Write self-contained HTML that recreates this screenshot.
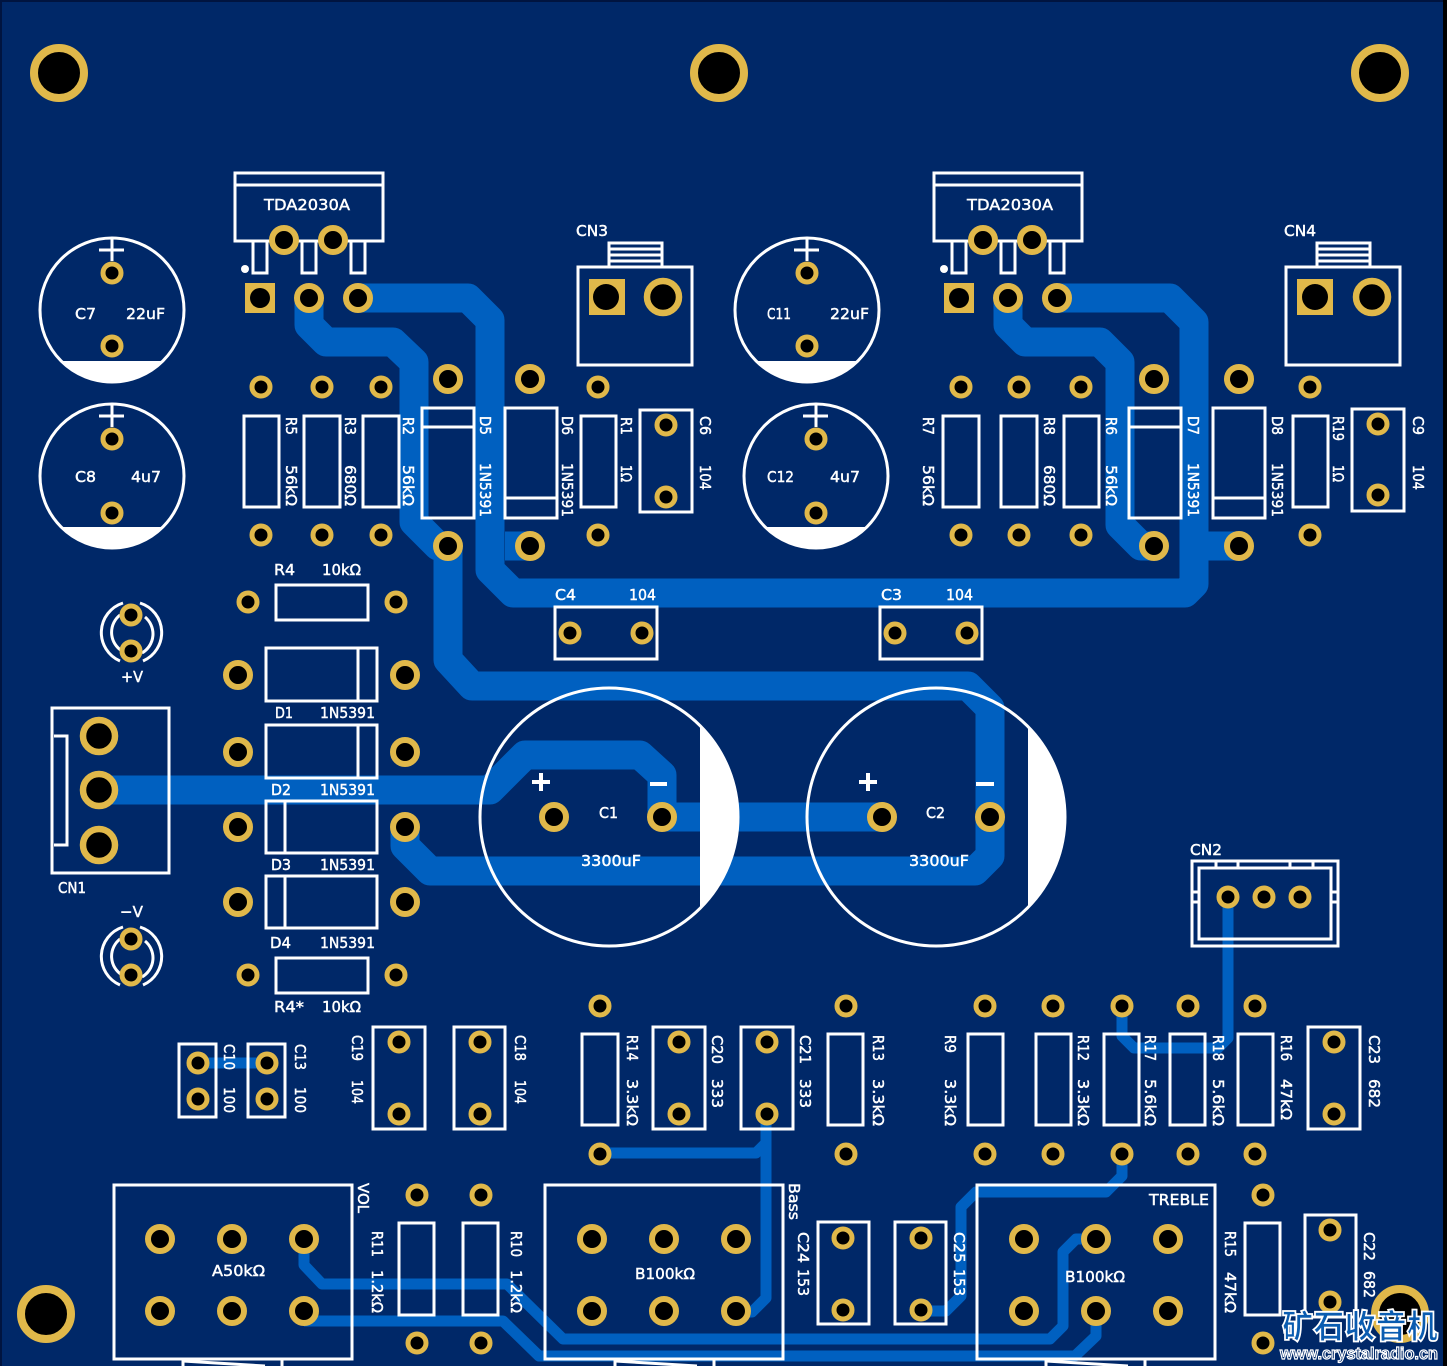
<!DOCTYPE html>
<html><head><meta charset="utf-8"><style>
html,body{margin:0;padding:0;background:#002868}
svg{display:block}
.si{fill:none;stroke:#fff;stroke-width:3;stroke-linejoin:miter}
.tr{fill:none;stroke:#0060c0;stroke-linejoin:round}
text{font-family:"DejaVu Sans","Liberation Sans",sans-serif;font-size:15.5px;fill:#fff;stroke:#fff;stroke-width:.45}
</style></head><body>
<svg xmlns="http://www.w3.org/2000/svg" width="1447" height="1366" viewBox="0 0 1447 1366">
<defs>
<circle id="s" r="9" fill="#000" stroke="#e0b84a" stroke-width="5"/>
<circle id="m" r="12" fill="#000" stroke="#e0b84a" stroke-width="6"/>
<circle id="b" r="16" fill="#000" stroke="#e0b84a" stroke-width="6.5"/>
<circle id="h" r="25" fill="#000" stroke="#e0b84a" stroke-width="8"/>
</defs>
<rect width="1447" height="1366" fill="#002868"/>
<rect width="2" height="1366" fill="#001440"/><rect width="1447" height="2" fill="#001440"/><rect x="1443" width="4" height="1366" fill="#000"/>

<!-- thick traces -->
<g class="tr" stroke-width="29">
<path d="M358 298H468L490 320V570L513 593H1185L1194 584V322L1170 298H1057"/>
<path d="M530 546H505M1239 546H1194"/>
<path d="M309 298V325L326 342H393L414 362V522L438 546H448V660L472 686H968L990 708V856L975 871H430L405 846V827"/>
<path d="M1008 298V325L1025 342H1100L1120 362V525L1141 546H1154"/>
<path d="M99 790H490L525 755H640L662 775V817H882"/>
</g>
<!-- thin traces -->
<g class="tr" stroke-width="11">
<path d="M1228 897V1038L1218 1048H1134L1122 1036V1005"/>
<path d="M1122 1153V1176L1106 1192H976L961 1207V1296L946 1311H921"/>
<path d="M600 1153H756L766 1143M766 1113V1298L752 1312H736"/>
<path d="M304 1239V1265L322 1284H507L563 1339H1050L1063 1326V1252L1076 1239H1096"/>
<path d="M304 1321H503L539 1356H1075L1096 1336V1312"/>
<path d="M198 1063H267"/>
</g>

<!-- silk -->
<g class="si">
<rect x="235" y="173" width="148" height="68"/><path d="M235 185H383"/>
<rect x="253" y="241" width="14" height="32"/><rect x="302" y="241" width="14" height="32"/><rect x="351" y="241" width="14" height="32"/>
<rect x="934" y="173" width="148" height="68"/><path d="M934 185H1082"/>
<rect x="952" y="241" width="14" height="32"/><rect x="1001" y="241" width="14" height="32"/><rect x="1050" y="241" width="14" height="32"/>
<circle cx="112" cy="310" r="72"/><circle cx="112" cy="476" r="72"/><circle cx="807" cy="310" r="72"/><circle cx="816" cy="476" r="72"/>
<circle cx="609" cy="817" r="129"/><circle cx="936" cy="817" r="129"/>
<path d="M99 250H124M112 238V261M99 416H124M112 404V427M794 250H819M807 238V261M803 416H828M816 404V427"/>
<rect x="578" y="267" width="114" height="98"/><rect x="609" y="243" width="53" height="24"/><path d="M609 249H662M609 255H662M609 261H662"/>
<rect x="1286" y="267" width="114" height="98"/><rect x="1317" y="243" width="53" height="24"/><path d="M1317 249H1370M1317 255H1370M1317 261H1370"/>
<!-- top row -->
<rect x="244" y="416" width="35" height="91"/><rect x="304" y="416" width="36" height="91"/><rect x="363" y="416" width="36" height="91"/>
<rect x="422" y="408" width="52" height="110"/><path d="M422 427H474"/>
<rect x="505" y="408" width="52" height="110"/><path d="M505 498H557"/>
<rect x="581" y="416" width="35" height="91"/><rect x="640" y="410" width="52" height="102"/>
<rect x="943" y="416" width="36" height="91"/><rect x="1001" y="416" width="36" height="91"/><rect x="1064" y="416" width="35" height="91"/>
<rect x="1129" y="408" width="52" height="110"/><path d="M1129 427H1181"/>
<rect x="1213" y="408" width="52" height="110"/><path d="M1213 498H1265"/>
<rect x="1293" y="416" width="35" height="91"/><rect x="1352" y="409" width="52" height="102"/>
<!-- left mid -->
<rect x="276" y="585" width="92" height="35"/><rect x="276" y="958" width="92" height="35"/>
<rect x="266" y="648" width="111" height="53"/><path d="M358 648V701"/>
<rect x="266" y="725" width="111" height="53"/><path d="M358 725V778"/>
<rect x="266" y="801" width="111" height="52"/><path d="M285 801V853"/>
<rect x="266" y="876" width="111" height="52"/><path d="M285 876V928"/>
<rect x="52" y="708" width="117" height="165"/><path d="M54 736H67V845H54"/>
<path d="M123 603A31 31 0 0 0 120 661M120 615A22 22 0 0 0 122 651M140 603A31 31 0 0 1 143 661M145 617A22 22 0 0 1 142 653"/>
<path d="M123 927A31 31 0 0 0 120 985M120 939A22 22 0 0 0 122 975M140 927A31 31 0 0 1 143 985M145 941A22 22 0 0 1 142 977"/>
<rect x="555" y="607" width="102" height="52"/><rect x="880" y="607" width="102" height="52"/>
<rect x="1192" y="861" width="146" height="85"/><rect x="1199" y="868" width="132" height="71"/>
<path d="M1216 861V868M1238 861V868M1290 861V868M1313 861V868M1192 892H1199M1192 902H1199M1331 892H1338M1331 902H1338"/>
<!-- lower row -->
<rect x="179" y="1044" width="37" height="73"/><rect x="248" y="1044" width="37" height="73"/>
<rect x="373" y="1027" width="52" height="102"/><rect x="454" y="1027" width="51" height="102"/>
<rect x="582" y="1034" width="36" height="91"/><rect x="653" y="1027" width="52" height="102"/><rect x="741" y="1027" width="52" height="102"/><rect x="828" y="1034" width="35" height="91"/>
<rect x="968" y="1034" width="35" height="91"/><rect x="1036" y="1034" width="35" height="91"/><rect x="1104" y="1034" width="35" height="91"/><rect x="1170" y="1034" width="35" height="91"/><rect x="1238" y="1034" width="35" height="91"/><rect x="1308" y="1027" width="52" height="102"/>
<!-- pots -->
<rect x="114" y="1185" width="238" height="174"/><path d="M183 1360V1366M282 1360V1366M183 1361L265 1366"/>
<rect x="545" y="1185" width="238" height="174"/><path d="M615 1360V1366M714 1360V1366M615 1361L697 1366"/>
<rect x="977" y="1185" width="238" height="174"/><path d="M1046 1360V1366M1145 1360V1366M1046 1361L1128 1366"/>
<rect x="399" y="1223" width="35" height="92"/><rect x="463" y="1223" width="35" height="92"/>
<rect x="818" y="1222" width="51" height="102"/><rect x="895" y="1222" width="51" height="102"/>
<rect x="1245" y="1223" width="35" height="92"/><rect x="1305" y="1215" width="51" height="102"/>
</g>
<circle cx="245" cy="269" r="4" fill="#fff"/><circle cx="944" cy="269" r="4" fill="#fff"/>
<!-- white segments -->
<g fill="#fff">
<path d="M61 361H163A72 72 0 0 1 61 361Z"/><path d="M61 527H163A72 72 0 0 1 61 527Z"/>
<path d="M756 361H858A72 72 0 0 1 756 361Z"/><path d="M765 527H867A72 72 0 0 1 765 527Z"/>
<path d="M700 725.6A129 129 0 0 1 700 908.4Z"/><path d="M1028 726.6A129 129 0 0 1 1028 907.4Z"/>
<rect x="532" y="780" width="18" height="4"/><rect x="539" y="773" width="4" height="18"/><rect x="650" y="782" width="17" height="4"/>
<rect x="859" y="780" width="18" height="4"/><rect x="866" y="773" width="4" height="18"/><rect x="976" y="782" width="18" height="4"/>
</g>

<!-- square pads -->
<g fill="#e0b84a">
<rect x="245" y="283" width="30" height="30"/><rect x="944" y="283" width="30" height="30"/>
<rect x="589" y="279" width="36" height="36"/><rect x="1297" y="279" width="36" height="36"/>
</g>
<g fill="#000"><circle cx="260" cy="298" r="10"/><circle cx="959" cy="298" r="10"/><circle cx="606" cy="297" r="13"/><circle cx="1315" cy="297" r="13"/></g>

<!-- mounting -->
<use href="#h" x="59" y="73"/><use href="#h" x="719" y="73"/><use href="#h" x="1380" y="73"/><use href="#h" x="46" y="1314"/><use href="#h" x="1400" y="1314"/>
<!-- medium -->
<use href="#m" x="284" y="240"/><use href="#m" x="333" y="240"/><use href="#m" x="309" y="298"/><use href="#m" x="358" y="298"/>
<use href="#m" x="983" y="240"/><use href="#m" x="1032" y="240"/><use href="#m" x="1008" y="298"/><use href="#m" x="1057" y="298"/>
<use href="#m" x="448" y="379"/><use href="#m" x="448" y="546"/><use href="#m" x="530" y="379"/><use href="#m" x="530" y="546"/>
<use href="#m" x="1154" y="379"/><use href="#m" x="1154" y="546"/><use href="#m" x="1239" y="379"/><use href="#m" x="1239" y="546"/>
<use href="#m" x="238" y="675"/><use href="#m" x="405" y="675"/><use href="#m" x="238" y="752"/><use href="#m" x="405" y="752"/><use href="#m" x="238" y="827"/><use href="#m" x="405" y="827"/><use href="#m" x="238" y="902"/><use href="#m" x="405" y="902"/>
<use href="#m" x="554" y="817"/><use href="#m" x="662" y="817"/><use href="#m" x="882" y="817"/><use href="#m" x="990" y="817"/>
<use href="#m" x="160" y="1239"/><use href="#m" x="232" y="1239"/><use href="#m" x="304" y="1239"/><use href="#m" x="160" y="1311"/><use href="#m" x="232" y="1311"/><use href="#m" x="304" y="1311"/>
<use href="#m" x="592" y="1239"/><use href="#m" x="664" y="1239"/><use href="#m" x="736" y="1239"/><use href="#m" x="592" y="1311"/><use href="#m" x="664" y="1311"/><use href="#m" x="736" y="1311"/>
<use href="#m" x="1024" y="1239"/><use href="#m" x="1096" y="1239"/><use href="#m" x="1168" y="1239"/><use href="#m" x="1024" y="1311"/><use href="#m" x="1096" y="1311"/><use href="#m" x="1168" y="1311"/>
<!-- big -->
<use href="#b" x="663" y="297"/><use href="#b" x="1372" y="297"/><use href="#b" x="99" y="736"/><use href="#b" x="99" y="790"/><use href="#b" x="99" y="845"/>
<!-- small -->
<use href="#s" x="112" y="273"/><use href="#s" x="112" y="346"/><use href="#s" x="112" y="439"/><use href="#s" x="112" y="513"/>
<use href="#s" x="807" y="273"/><use href="#s" x="807" y="346"/><use href="#s" x="816" y="439"/><use href="#s" x="816" y="513"/>
<use href="#s" x="261" y="387"/><use href="#s" x="322" y="387"/><use href="#s" x="381" y="387"/><use href="#s" x="598" y="387"/>
<use href="#s" x="261" y="535"/><use href="#s" x="322" y="535"/><use href="#s" x="381" y="535"/><use href="#s" x="598" y="535"/>
<use href="#s" x="666" y="425"/><use href="#s" x="666" y="497"/>
<use href="#s" x="961" y="387"/><use href="#s" x="1019" y="387"/><use href="#s" x="1081" y="387"/><use href="#s" x="1310" y="387"/>
<use href="#s" x="961" y="535"/><use href="#s" x="1019" y="535"/><use href="#s" x="1081" y="535"/><use href="#s" x="1310" y="535"/>
<use href="#s" x="1378" y="424"/><use href="#s" x="1378" y="495"/>
<use href="#s" x="248" y="602"/><use href="#s" x="396" y="602"/><use href="#s" x="248" y="975"/><use href="#s" x="396" y="975"/>
<use href="#s" x="131" y="615"/><use href="#s" x="131" y="651"/><use href="#s" x="131" y="939"/><use href="#s" x="131" y="975"/>
<use href="#s" x="570" y="633"/><use href="#s" x="642" y="633"/><use href="#s" x="895" y="633"/><use href="#s" x="967" y="633"/>
<use href="#s" x="1228" y="897"/><use href="#s" x="1264" y="897"/><use href="#s" x="1300" y="897"/>
<use href="#s" x="198" y="1063"/><use href="#s" x="198" y="1099"/><use href="#s" x="267" y="1063"/><use href="#s" x="267" y="1099"/>
<use href="#s" x="399" y="1042"/><use href="#s" x="399" y="1114"/><use href="#s" x="480" y="1042"/><use href="#s" x="480" y="1114"/>
<use href="#s" x="600" y="1006"/><use href="#s" x="600" y="1154"/><use href="#s" x="679" y="1042"/><use href="#s" x="679" y="1114"/><use href="#s" x="767" y="1042"/><use href="#s" x="767" y="1114"/><use href="#s" x="846" y="1006"/><use href="#s" x="846" y="1154"/>
<use href="#s" x="985" y="1006"/><use href="#s" x="985" y="1154"/><use href="#s" x="1053" y="1006"/><use href="#s" x="1053" y="1154"/><use href="#s" x="1122" y="1006"/><use href="#s" x="1122" y="1154"/><use href="#s" x="1188" y="1006"/><use href="#s" x="1188" y="1154"/><use href="#s" x="1255" y="1006"/><use href="#s" x="1255" y="1154"/>
<use href="#s" x="1334" y="1042"/><use href="#s" x="1334" y="1114"/>
<use href="#s" x="417" y="1195"/><use href="#s" x="417" y="1343"/><use href="#s" x="481" y="1195"/><use href="#s" x="481" y="1343"/>
<use href="#s" x="843" y="1238"/><use href="#s" x="843" y="1310"/><use href="#s" x="921" y="1238"/><use href="#s" x="921" y="1310"/>
<use href="#s" x="1263" y="1195"/><use href="#s" x="1263" y="1343"/><use href="#s" x="1330" y="1230"/><use href="#s" x="1330" y="1302"/>

<!-- horizontal labels -->
<g>
<text x="264" y="210" textLength="86" lengthAdjust="spacingAndGlyphs">TDA2030A</text><text x="967" y="210" textLength="86" lengthAdjust="spacingAndGlyphs">TDA2030A</text>
<text x="576" y="236" textLength="32" lengthAdjust="spacingAndGlyphs">CN3</text><text x="1284" y="236" textLength="32" lengthAdjust="spacingAndGlyphs">CN4</text>
<text x="75" y="319" textLength="21" lengthAdjust="spacingAndGlyphs">C7</text><text x="126" y="319" textLength="39" lengthAdjust="spacingAndGlyphs">22uF</text>
<text x="75" y="482" textLength="21" lengthAdjust="spacingAndGlyphs">C8</text><text x="131" y="482" textLength="30" lengthAdjust="spacingAndGlyphs">4u7</text>
<text x="767" y="319" textLength="24" lengthAdjust="spacingAndGlyphs">C11</text><text x="830" y="319" textLength="39" lengthAdjust="spacingAndGlyphs">22uF</text>
<text x="767" y="482" textLength="27" lengthAdjust="spacingAndGlyphs">C12</text><text x="830" y="482" textLength="30" lengthAdjust="spacingAndGlyphs">4u7</text>
<text x="274" y="575" textLength="21" lengthAdjust="spacingAndGlyphs">R4</text><text x="322" y="575" textLength="39" lengthAdjust="spacingAndGlyphs">10kΩ</text>
<text x="555" y="600" textLength="21" lengthAdjust="spacingAndGlyphs">C4</text><text x="629" y="600" textLength="27" lengthAdjust="spacingAndGlyphs">104</text>
<text x="881" y="600" textLength="21" lengthAdjust="spacingAndGlyphs">C3</text><text x="946" y="600" textLength="27" lengthAdjust="spacingAndGlyphs">104</text>
<text x="121" y="682" textLength="22" lengthAdjust="spacingAndGlyphs">+V</text>
<text x="275" y="718" textLength="18" lengthAdjust="spacingAndGlyphs">D1</text><text x="320" y="718" textLength="55" lengthAdjust="spacingAndGlyphs">1N5391</text>
<text x="271" y="795" textLength="20" lengthAdjust="spacingAndGlyphs">D2</text><text x="320" y="795" textLength="55" lengthAdjust="spacingAndGlyphs">1N5391</text>
<text x="271" y="870" textLength="20" lengthAdjust="spacingAndGlyphs">D3</text><text x="320" y="870" textLength="55" lengthAdjust="spacingAndGlyphs">1N5391</text>
<text x="270" y="948" textLength="21" lengthAdjust="spacingAndGlyphs">D4</text><text x="320" y="948" textLength="55" lengthAdjust="spacingAndGlyphs">1N5391</text>
<text x="58" y="893" textLength="28" lengthAdjust="spacingAndGlyphs">CN1</text><text x="120" y="917" textLength="23" lengthAdjust="spacingAndGlyphs">−V</text>
<text x="274" y="1012" textLength="30" lengthAdjust="spacingAndGlyphs">R4*</text><text x="322" y="1012" textLength="39" lengthAdjust="spacingAndGlyphs">10kΩ</text>
<text x="599" y="818" textLength="19" lengthAdjust="spacingAndGlyphs">C1</text><text x="926" y="818" textLength="19" lengthAdjust="spacingAndGlyphs">C2</text>
<text x="581" y="866" textLength="60" lengthAdjust="spacingAndGlyphs">3300uF</text><text x="909" y="866" textLength="60" lengthAdjust="spacingAndGlyphs">3300uF</text>
<text x="1190" y="855" textLength="32" lengthAdjust="spacingAndGlyphs">CN2</text>
<text x="212" y="1276" textLength="53" lengthAdjust="spacingAndGlyphs">A50kΩ</text><text x="635" y="1279" textLength="60" lengthAdjust="spacingAndGlyphs">B100kΩ</text><text x="1065" y="1282" textLength="60" lengthAdjust="spacingAndGlyphs">B100kΩ</text>
<text x="1149" y="1205" textLength="60" lengthAdjust="spacingAndGlyphs">TREBLE</text>
</g>

<!-- rotated labels -->
<g>
<text transform="translate(286 417) rotate(90)" textLength="18" lengthAdjust="spacingAndGlyphs">R5</text><text transform="translate(286 465) rotate(90)" textLength="41" lengthAdjust="spacingAndGlyphs">56kΩ</text>
<text transform="translate(345 417) rotate(90)" textLength="18" lengthAdjust="spacingAndGlyphs">R3</text><text transform="translate(345 465) rotate(90)" textLength="41" lengthAdjust="spacingAndGlyphs">680Ω</text>
<text transform="translate(403 417) rotate(90)" textLength="18" lengthAdjust="spacingAndGlyphs">R2</text><text transform="translate(403 465) rotate(90)" textLength="41" lengthAdjust="spacingAndGlyphs">56kΩ</text>
<text transform="translate(480 416) rotate(90)" textLength="19" lengthAdjust="spacingAndGlyphs">D5</text><text transform="translate(480 463) rotate(90)" textLength="54" lengthAdjust="spacingAndGlyphs">1N5391</text>
<text transform="translate(562 416) rotate(90)" textLength="19" lengthAdjust="spacingAndGlyphs">D6</text><text transform="translate(562 463) rotate(90)" textLength="54" lengthAdjust="spacingAndGlyphs">1N5391</text>
<text transform="translate(621 417) rotate(90)" textLength="18" lengthAdjust="spacingAndGlyphs">R1</text><text transform="translate(621 465) rotate(90)" textLength="17" lengthAdjust="spacingAndGlyphs">1Ω</text>
<text transform="translate(700 416) rotate(90)" textLength="19" lengthAdjust="spacingAndGlyphs">C6</text><text transform="translate(700 465) rotate(90)" textLength="25" lengthAdjust="spacingAndGlyphs">104</text>
<text transform="translate(923 417) rotate(90)" textLength="18" lengthAdjust="spacingAndGlyphs">R7</text><text transform="translate(923 465) rotate(90)" textLength="41" lengthAdjust="spacingAndGlyphs">56kΩ</text>
<text transform="translate(1044 417) rotate(90)" textLength="18" lengthAdjust="spacingAndGlyphs">R8</text><text transform="translate(1044 465) rotate(90)" textLength="41" lengthAdjust="spacingAndGlyphs">680Ω</text>
<text transform="translate(1106 417) rotate(90)" textLength="18" lengthAdjust="spacingAndGlyphs">R6</text><text transform="translate(1106 465) rotate(90)" textLength="41" lengthAdjust="spacingAndGlyphs">56kΩ</text>
<text transform="translate(1188 416) rotate(90)" textLength="19" lengthAdjust="spacingAndGlyphs">D7</text><text transform="translate(1188 463) rotate(90)" textLength="54" lengthAdjust="spacingAndGlyphs">1N5391</text>
<text transform="translate(1272 416) rotate(90)" textLength="19" lengthAdjust="spacingAndGlyphs">D8</text><text transform="translate(1272 463) rotate(90)" textLength="54" lengthAdjust="spacingAndGlyphs">1N5391</text>
<text transform="translate(1333 416) rotate(90)" textLength="25" lengthAdjust="spacingAndGlyphs">R19</text><text transform="translate(1333 465) rotate(90)" textLength="17" lengthAdjust="spacingAndGlyphs">1Ω</text>
<text transform="translate(1413 416) rotate(90)" textLength="19" lengthAdjust="spacingAndGlyphs">C9</text><text transform="translate(1413 465) rotate(90)" textLength="25" lengthAdjust="spacingAndGlyphs">104</text>
<text transform="translate(224 1044) rotate(90)" textLength="26" lengthAdjust="spacingAndGlyphs">C10</text><text transform="translate(224 1087) rotate(90)" textLength="26" lengthAdjust="spacingAndGlyphs">100</text>
<text transform="translate(295 1044) rotate(90)" textLength="26" lengthAdjust="spacingAndGlyphs">C13</text><text transform="translate(295 1087) rotate(90)" textLength="26" lengthAdjust="spacingAndGlyphs">100</text>
<text transform="translate(352 1035) rotate(90)" textLength="26" lengthAdjust="spacingAndGlyphs">C19</text><text transform="translate(352 1080) rotate(90)" textLength="24" lengthAdjust="spacingAndGlyphs">104</text>
<text transform="translate(515 1035) rotate(90)" textLength="26" lengthAdjust="spacingAndGlyphs">C18</text><text transform="translate(515 1080) rotate(90)" textLength="24" lengthAdjust="spacingAndGlyphs">104</text>
<text transform="translate(627 1035) rotate(90)" textLength="26" lengthAdjust="spacingAndGlyphs">R14</text><text transform="translate(627 1079) rotate(90)" textLength="47" lengthAdjust="spacingAndGlyphs">3.3kΩ</text>
<text transform="translate(712 1035) rotate(90)" textLength="29" lengthAdjust="spacingAndGlyphs">C20</text><text transform="translate(712 1079) rotate(90)" textLength="29" lengthAdjust="spacingAndGlyphs">333</text>
<text transform="translate(800 1035) rotate(90)" textLength="29" lengthAdjust="spacingAndGlyphs">C21</text><text transform="translate(800 1079) rotate(90)" textLength="29" lengthAdjust="spacingAndGlyphs">333</text>
<text transform="translate(873 1035) rotate(90)" textLength="26" lengthAdjust="spacingAndGlyphs">R13</text><text transform="translate(873 1079) rotate(90)" textLength="47" lengthAdjust="spacingAndGlyphs">3.3kΩ</text>
<text transform="translate(945 1035) rotate(90)" textLength="18" lengthAdjust="spacingAndGlyphs">R9</text><text transform="translate(945 1079) rotate(90)" textLength="47" lengthAdjust="spacingAndGlyphs">3.3kΩ</text>
<text transform="translate(1078 1035) rotate(90)" textLength="26" lengthAdjust="spacingAndGlyphs">R12</text><text transform="translate(1078 1079) rotate(90)" textLength="47" lengthAdjust="spacingAndGlyphs">3.3kΩ</text>
<text transform="translate(1145 1035) rotate(90)" textLength="26" lengthAdjust="spacingAndGlyphs">R17</text><text transform="translate(1145 1079) rotate(90)" textLength="47" lengthAdjust="spacingAndGlyphs">5.6kΩ</text>
<text transform="translate(1213 1035) rotate(90)" textLength="26" lengthAdjust="spacingAndGlyphs">R18</text><text transform="translate(1213 1079) rotate(90)" textLength="47" lengthAdjust="spacingAndGlyphs">5.6kΩ</text>
<text transform="translate(1281 1035) rotate(90)" textLength="26" lengthAdjust="spacingAndGlyphs">R16</text><text transform="translate(1281 1079) rotate(90)" textLength="41" lengthAdjust="spacingAndGlyphs">47kΩ</text>
<text transform="translate(1369 1035) rotate(90)" textLength="29" lengthAdjust="spacingAndGlyphs">C23</text><text transform="translate(1369 1079) rotate(90)" textLength="29" lengthAdjust="spacingAndGlyphs">682</text>
<text transform="translate(358 1183) rotate(90)" textLength="30" lengthAdjust="spacingAndGlyphs">VOL</text>
<text transform="translate(372 1231) rotate(90)" textLength="26" lengthAdjust="spacingAndGlyphs">R11</text><text transform="translate(372 1270) rotate(90)" textLength="43" lengthAdjust="spacingAndGlyphs">1.2kΩ</text>
<text transform="translate(511 1231) rotate(90)" textLength="26" lengthAdjust="spacingAndGlyphs">R10</text><text transform="translate(511 1270) rotate(90)" textLength="43" lengthAdjust="spacingAndGlyphs">1.2kΩ</text>
<text transform="translate(789 1183) rotate(90)" textLength="37" lengthAdjust="spacingAndGlyphs">Bass</text>
<text transform="translate(798 1232) rotate(90)" textLength="31" lengthAdjust="spacingAndGlyphs">C24</text><text transform="translate(798 1269) rotate(90)" textLength="27" lengthAdjust="spacingAndGlyphs">153</text>
<text transform="translate(954 1232) rotate(90)" textLength="31" lengthAdjust="spacingAndGlyphs">C25</text><text transform="translate(954 1269) rotate(90)" textLength="27" lengthAdjust="spacingAndGlyphs">153</text>
<text transform="translate(1225 1231) rotate(90)" textLength="26" lengthAdjust="spacingAndGlyphs">R15</text><text transform="translate(1225 1272) rotate(90)" textLength="41" lengthAdjust="spacingAndGlyphs">47kΩ</text>
<text transform="translate(1364 1232) rotate(90)" textLength="29" lengthAdjust="spacingAndGlyphs">C22</text><text transform="translate(1364 1271) rotate(90)" textLength="27" lengthAdjust="spacingAndGlyphs">682</text>
</g>

<!-- logo -->
<text x="1282" y="1338" textLength="156" lengthAdjust="spacingAndGlyphs" style="font-family:'Noto Sans CJK SC',sans-serif;font-size:33px;font-weight:900;fill:#0a5cb0;stroke:#fff;stroke-width:1.8">矿石收音机</text>
<text x="1280" y="1359" textLength="158" lengthAdjust="spacingAndGlyphs" style="font-family:'Liberation Sans',sans-serif;font-size:17px;font-weight:700;fill:#002868;stroke:#fff;stroke-width:1.2">www.crystalradio.cn</text>
</svg>
</body></html>
